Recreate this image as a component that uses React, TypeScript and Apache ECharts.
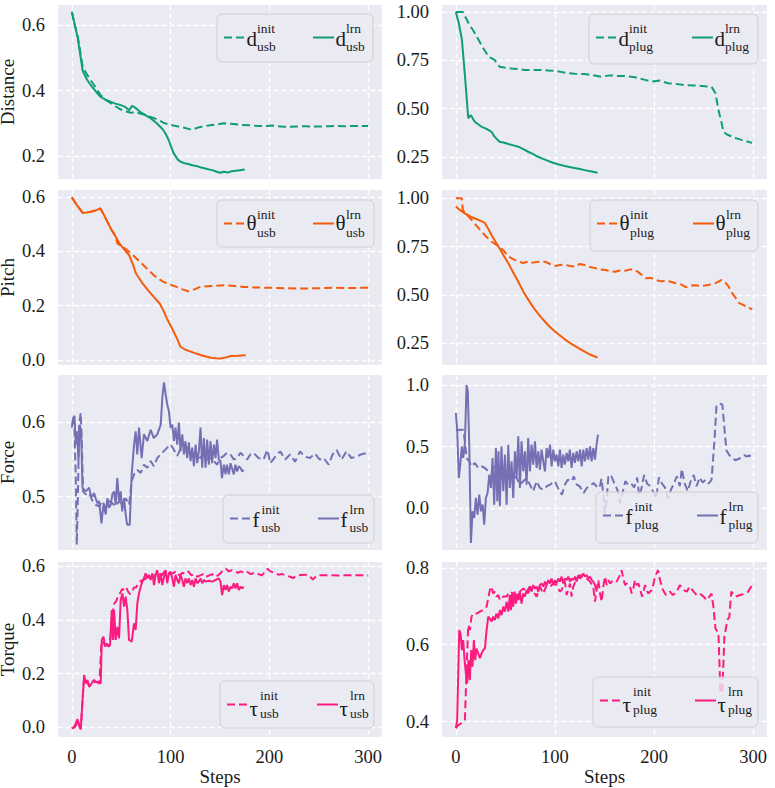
import React, { useEffect, useRef } from "react";
import * as echarts from "echarts";

const FONT = "Liberation Serif";
const TEXT = "#1c1c1c";
const GREEN = "#0e9e75";
const ORANGE = "#f65b0c";
const PURPLE = "#7570b3";
const PINK = "#fc1c81";

const stepTicks = [0, 100, 200, 300];
const rowNames = ["Distance", "Pitch", "Force", "Torque"];

// ---------- Distance ----------
const dUsbInit = [[0,.64],[3,.6],[6,.565],[11,.473],[15,.45],[19,.432],[24,.41],[29,.386],[34,.372],[39,.362],[44,.352],[48,.345],[52,.338],[56,.335],[60,.332],[64,.334],[69,.33],[74,.326],[79,.32],[84,.315],[89,.308],[94,.3],[98,.297],[103,.293],[108,.29],[113,.287],[118,.283],[121,.281],[125,.284],[130,.289],[136,.292],[142,.295],[148,.297],[154,.3],[160,.299],[166,.297],[172,.295],[180,.294],[188,.292],[196,.292],[204,.293],[212,.29],[220,.289],[228,.29],[236,.291],[244,.29],[252,.29],[260,.291],[268,.292],[276,.291],[284,.292],[292,.292],[300,.292]];
const dUsbLrn = [[0,.64],[3,.6],[6,.56],[9,.5],[11,.46],[15,.435],[19,.417],[24,.398],[29,.381],[34,.372],[39,.366],[44,.36],[49,.356],[54,.35],[58,.34],[61,.353],[64,.348],[69,.335],[74,.326],[80,.315],[86,.3],[92,.282],[95,.268],[98,.249],[101,.225],[103,.209],[107,.19],[110,.183],[114,.178],[118,.176],[122,.172],[126,.17],[130,.166],[134,.163],[138,.16],[142,.157],[146,.153],[150,.149],[154,.152],[158,.15],[162,.154],[166,.155],[170,.157],[175,.159]];
const dPlugInit = [[0,1],[7,1],[10,.97],[13,.94],[18,.9],[23,.855],[28,.81],[33,.769],[39,.752],[44,.717],[50,.712],[56,.708],[62,.705],[69,.7],[77,.7],[86,.7],[93,.697],[100,.696],[106,.69],[113,.683],[120,.68],[130,.679],[138,.673],[147,.665],[155,.672],[164,.669],[172,.668],[181,.662],[190,.65],[198,.64],[206,.645],[214,.631],[222,.628],[231,.622],[240,.62],[248,.617],[258,.613],[262,.58],[265,.493],[268,.43],[270,.38],[274,.365],[279,.355],[284,.345],[289,.337],[294,.33],[299,.323]];
const dPlugLrn = [[0,1],[3,.94],[6,.86],[9,.68],[12.5,.45],[15,.467],[19,.432],[26,.406],[31,.395],[36,.38],[39,.355],[44,.329],[48,.325],[53,.317],[58,.31],[63,.303],[68,.29],[73,.277],[78,.265],[83,.251],[88,.24],[93,.23],[98,.22],[103,.212],[110,.203],[117,.196],[124,.189],[130,.182],[137,.175],[143,.168]];

// ---------- Pitch ----------
const pUsbInit = [[0,.598],[5,.57],[11,.541],[15,.542],[19,.545],[24,.55],[29,.557],[33,.53],[36,.508],[40,.48],[44.5,.453],[46,.429],[51,.418],[56,.404],[62,.385],[69,.361],[76,.336],[83,.312],[88,.298],[93,.287],[100,.277],[106,.269],[112,.26],[118,.253],[124,.26],[130,.269],[137,.271],[144,.273],[150,.274],[157,.275],[165,.272],[174,.269],[185,.267],[198,.266],[215,.264],[231,.263],[250,.264],[265,.266],[282,.265],[300,.266]];
const pUsbLrn = [[0,.598],[5,.57],[11,.541],[15,.542],[19,.545],[24,.55],[29,.557],[33,.53],[36,.508],[40,.48],[44.5,.453],[48,.43],[51,.416],[55,.398],[58,.386],[62,.35],[65,.318],[71,.285],[77,.257],[83,.232],[89,.208],[93,.18],[97,.147],[101,.12],[104,.098],[107,.075],[110,.049],[115,.038],[120.5,.031],[126,.024],[131,.018],[136,.013],[141,.009],[146,.007],[151,.006],[156,.01],[161,.015],[168,.016],[176,.018]];
const pPlugInit = [[0,1],[6,1],[7,.94],[11,.915],[16,.888],[21,.857],[26,.827],[31,.8],[36,.775],[40,.762],[44,.75],[48,.73],[53,.698],[58,.685],[63,.672],[68,.665],[73,.672],[77,.667],[84,.672],[90,.672],[95,.66],[100,.65],[105,.655],[110,.656],[115,.65],[120,.646],[125,.66],[130,.655],[135,.645],[141,.638],[146,.632],[151,.629],[156,.622],[161,.62],[166,.628],[171,.625],[176,.632],[181,.629],[186,.61],[192,.586],[197,.588],[202,.577],[207,.57],[212,.573],[217,.568],[222,.56],[227,.555],[232,.54],[237,.548],[242,.55],[247,.545],[253,.55],[258,.555],[263,.563],[268,.577],[271,.57],[275,.545],[279,.508],[283,.48],[286,.457],[290,.448],[293,.44],[296,.432],[299,.426]];
const pPlugLrn = [[0,.957],[4,.94],[9,.922],[16,.902],[22,.89],[29,.874],[33,.84],[36,.81],[40,.775],[44,.741],[48,.705],[53,.664],[58,.615],[63,.568],[69,.508],[75,.46],[80,.422],[85,.39],[90,.361],[95,.334],[100,.31],[105,.29],[110,.27],[115,.252],[120,.236],[125,.221],[130,.206],[136,.19],[143,.175]];

// ---------- Force ----------
const fUsbInit = [[0,.597],[2.4,.602],[4,.525],[5,.435],[6,.489],[7.4,.597],[9,.613],[10,.579],[11.4,.507],[14,.503],[17.5,.505],[21,.494],[24,.489],[27.6,.487],[31,.494],[34,.485],[37.7,.494],[41,.491],[44.4,.487],[47.8,.494],[51,.489],[54.5,.498],[58,.489],[60.6,.521],[63,.53],[66.3,.536],[69.7,.532],[73,.543],[76.4,.539],[79.8,.548],[83,.541],[86.5,.552],[90,.557],[93,.561],[96.6,.566],[100,.57],[103,.564],[106.7,.555],[110,.564],[113.5,.57],[117,.566],[120,.557],[123.6,.559],[127,.557],[130,.552],[133.7,.559],[137,.55],[140.4,.552],[143.8,.548],[147,.543],[150.5,.552],[153.9,.555],[157,.559],[160.6,.557],[164,.55],[167.3,.552],[170.7,.559],[174,.555],[177.4,.55],[180.8,.557],[184,.559],[189,.552],[194,.55],[198,.563],[201,.545],[206,.554],[211,.561],[216,.55],[221,.557],[226,.547],[231,.561],[236,.554],[241,.552],[246,.558],[251,.55],[255,.552],[260,.543],[264,.557],[268,.563],[273,.55],[278,.561],[283,.552],[288,.554],[293,.557],[299,.559]];
const fUsbLrn = [[0,.593],[1.3,.606],[2.7,.609],[4,.57],[5.4,.588],[6.7,.548],[8,.597],[9.4,.588],[10.8,.512],[14,.507],[17.5,.512],[19,.503],[21,.5],[22.5,.505],[24,.498],[26,.491],[27.6,.494],[30,.464],[32,.489],[34.3,.476],[36,.498],[37.7,.485],[39.4,.489],[41,.503],[42.8,.507],[44.4,.489],[46,.525],[47.8,.494],[49.5,.507],[51,.48],[52.9,.498],[54.5,.476],[56,.462],[58.6,.462],[60.6,.53],[63,.57],[64.6,.588],[66.3,.557],[68,.593],[70.7,.552],[73,.584],[76.4,.575],[79.8,.59],[83,.579],[86.5,.584],[90,.597],[91.6,.633],[93.3,.654],[95,.638],[96.6,.624],[98.3,.615],[100,.593],[101.7,.597],[103.4,.575],[105,.593],[106.7,.57],[108.4,.6],[110,.561],[111.8,.584],[113.5,.557],[115,.575],[116.8,.552],[118.5,.573],[120.2,.548],[121.9,.566],[123.6,.541],[125.3,.57],[127,.545],[128.6,.561],[130.3,.593],[132,.539],[133.7,.579],[135.4,.539],[137,.577],[138.7,.543],[140.4,.575],[142,.545],[143.8,.57],[145.5,.552],[147,.577],[148.8,.55],[150.5,.548],[152,.525],[153.9,.543],[155.6,.53],[157,.543],[159,.53],[160.6,.545],[162,.539],[164,.53],[165.6,.543],[167.3,.534],[169,.541],[170.7,.539],[172.4,.534],[174,.536]];
const fPlugInit = [[0,.635],[7.4,.638],[9,.55],[10.8,.408],[13.5,.381],[15.8,.34],[19.2,.368],[22.6,.327],[26,.34],[29.3,.327],[32.7,.3],[36,.313],[39.4,.34],[42.8,.273],[47.8,.246],[51,.273],[54.5,.232],[58,.26],[61.3,.246],[64.6,.192],[68,.219],[71.4,.246],[74.7,.192],[78,.138],[81.5,.219],[84.8,.165],[88.2,.151],[91.6,.178],[95,.192],[100,.219],[103,.165],[107,.111],[110,.192],[113,.232],[117,.219],[119,.26],[122,.192],[125,.178],[129,.124],[132,.165],[135,.178],[139,.205],[142,.178],[145,.165],[147,.24],[149,.1],[150,-.04],[152,.05],[154,.27],[157,.26],[160,.2],[163,.15],[166,.04],[168,.12],[171,.22],[174,.19],[177,.2],[180,.17],[183,.25],[185,.1],[187,.15],[190,.27],[193,.2],[196,.18],[199,.14],[202,.08],[205,.25],[208,.2],[211,.17],[214,.08],[217,.15],[220,.2],[223,.26],[226,.18],[228,.32],[231,.2],[234,.14],[237,.22],[240,.27],[243,.18],[246,.25],[249,.21],[252,.23],[255,.2],[258,.23],[261,.55],[263,.83],[266,.85],[269,.84],[271,.65],[273,.47],[276,.43],[279,.41],[282,.39],[285,.4],[288,.41],[291,.43],[294,.42],[296,.43],[299,.41]];
const fPlugLrn = [[0,.773],[1.3,.638],[3,.246],[4.7,.381],[6,.503],[7.4,.408],[9,.516],[10.8,1],[12,.949],[13.5,.516],[15.2,-.281],[16.8,-.024],[18.5,-.078],[20.2,.084],[21.9,-.051],[23.6,.111],[25.3,-.024],[27,.03],[28.6,-.132],[30.3,.084],[32,.124],[33.7,.273],[35.4,.165],[37,.408],[38.7,.03],[40.4,.489],[41.8,.057],[43,.462],[44.4,.016],[46,.503],[47.8,.138],[49.5,.435],[51.2,.03],[52.9,.516],[54.5,.165],[56.2,.381],[57.9,.084],[59.6,.462],[61.3,.246],[63,.584],[64.6,.165],[66.3,.543],[68,.3],[69.7,.462],[71.4,.192],[73,.57],[74.7,.3],[76.4,.516],[78.1,.354],[79.8,.543],[81.5,.327],[83.2,.462],[84.8,.313],[86.5,.476],[88.2,.381],[89.9,.3],[91.6,.489],[93.3,.408],[95,.516],[96.6,.34],[98.3,.476],[100,.381],[101.7,.435],[103.4,.34],[105,.476],[106.7,.327],[108.4,.435],[110,.354],[111.8,.449],[113.5,.381],[115,.476],[116.8,.327],[118.5,.449],[120.2,.368],[121.9,.462],[123.6,.381],[125.3,.476],[127,.34],[128.6,.476],[130.3,.381],[132,.489],[133.7,.395],[135.4,.503],[137,.381],[138.7,.489],[140.4,.395],[142,.516],[143.4,.597]];

// ---------- Torque ----------
const tUsbInit = [[0,-.004],[3,0],[6,.02],[8,0],[9,-.005],[10.8,.1],[12.5,.19],[14,.17],[17,.16],[21,.165],[25,.17],[28,.168],[30,.32],[33,.31],[36,.305],[39,.33],[41,.42],[43,.46],[45,.47],[47,.49],[49,.5],[51,.515],[53,.51],[55,.52],[57,.505],[59,.495],[61,.505],[63,.52],[65,.52],[67,.535],[70,.545],[73,.55],[76,.555],[79,.56],[82,.555],[85,.57],[88,.575],[91,.565],[94,.58],[97,.575],[100,.57],[103,.575],[106,.58],[109,.565],[112,.575],[115,.57],[118,.58],[121,.565],[124,.57],[127,.56],[130,.565],[133,.57],[136,.56],[139,.565],[142,.57],[145,.56],[148,.565],[151,.575],[153,.585],[156,.59],[159,.58],[162,.585],[165,.58],[168,.575],[171,.58],[174,.575],[177,.58],[181,.57],[185,.575],[189,.57],[192,.565],[195,.575],[198,.59],[201,.58],[205,.575],[209,.568],[213,.57],[217,.565],[221,.56],[224,.555],[228,.565],[232,.567],[236,.568],[240,.565],[244,.55],[248,.565],[255,.566],[262,.566],[270,.565],[280,.566],[290,.566],[300,.565]];
const tUsbLrn = [[0,-.004],[2.4,.002],[4,.015],[5.7,.03],[7.4,.009],[9.1,-.008],[10.8,.1],[12.5,.195],[14.1,.164],[15.8,.176],[17.5,.151],[19.2,.157],[20.9,.17],[22.6,.176],[24.2,.17],[27.6,.164],[29.3,.164],[30.3,.325],[32,.337],[33.7,.3],[35.4,.312],[37,.3],[38.7,.306],[40.4,.436],[41.8,.325],[42.8,.436],[44.4,.325],[46.1,.374],[47.8,.331],[49.5,.474],[51.2,.498],[52.9,.449],[54.5,.486],[56.2,.436],[57.9,.325],[60.6,.319],[63,.387],[64.6,.362],[66.3,.461],[68,.498],[69.7,.523],[71.4,.542],[73,.554],[74.7,.573],[76.4,.554],[78.1,.567],[79.8,.548],[81.5,.573],[83.2,.529],[84.8,.567],[86.5,.585],[88.2,.536],[89.9,.573],[91.6,.529],[93.3,.56],[95,.585],[96.6,.536],[98.3,.573],[100,.579],[101.7,.554],[103.4,.523],[105,.567],[106.7,.548],[108.4,.536],[110,.567],[111.8,.548],[113.5,.523],[115,.554],[116.8,.536],[118.5,.554],[120.2,.529],[121.9,.548],[123.6,.523],[125.3,.554],[127,.536],[128.6,.542],[130.3,.554],[132,.536],[133.7,.548],[135.4,.542],[138.7,.545],[142,.542],[145.5,.548],[148.8,.554],[150.5,.542],[152.2,.492],[153.9,.529],[155.6,.511],[157.2,.529],[158.9,.505],[160.6,.523],[162.3,.517],[164,.536],[165.7,.517],[167.3,.536],[169,.511],[170.7,.523],[172.4,.517],[174,.523]];
const tPlugInit = [[0,.383],[2.4,.391],[5.7,.396],[9.1,.404],[10.8,.534],[12.5,.651],[14.1,.638],[15.8,.673],[17.5,.681],[20.9,.681],[24.2,.686],[27.6,.69],[31,.699],[34.3,.742],[36,.751],[37.7,.733],[39.4,.738],[41,.725],[42.8,.729],[44.4,.716],[47.8,.725],[51.2,.725],[54.5,.738],[57.9,.733],[61.3,.725],[64.6,.738],[68,.746],[71.4,.738],[74.7,.751],[78.1,.738],[81.5,.725],[84.8,.751],[88.2,.733],[91.6,.755],[95,.751],[98.3,.759],[101.7,.755],[105,.738],[106.7,.742],[110,.764],[111.8,.729],[115.2,.759],[116.8,.725],[118.5,.751],[121.9,.772],[125.3,.781],[128.6,.777],[132,.772],[135.4,.764],[138.7,.751],[140.4,.712],[142,.742],[143.8,.768],[145.5,.733],[147.1,.712],[148.8,.751],[150.5,.777],[152.2,.755],[153.9,.768],[155.6,.759],[158.9,.768],[162.3,.764],[165.7,.781],[167.3,.794],[169,.772],[170.7,.755],[172.4,.759],[175.8,.751],[177.4,.733],[179.1,.746],[180.8,.768],[182.5,.755],[184.2,.759],[188,.725],[191,.755],[194,.733],[198,.742],[201,.777],[204,.794],[206,.768],[209,.742],[212,.729],[216,.738],[219,.729],[223,.738],[226,.755],[230,.742],[233,.738],[236,.751],[240,.738],[243,.729],[246,.733],[250,.725],[253,.716],[257,.729],[258,.733],[260,.697],[262,.642],[265,.63],[267,.474],[269,.483],[271,.62],[274,.664],[276,.672],[277,.707],[278,.738],[282,.725],[287,.729],[292,.733],[295,.738],[299,.755]];
const tPlugLrn = [[0,.383],[1.3,.404],[3.4,.638],[4.7,.629],[6.1,.586],[7.4,.612],[8.8,.56],[10.1,.526],[11.4,.5],[12.8,.56],[14.1,.508],[15.5,.586],[16.8,.543],[18.2,.612],[19.5,.56],[20.9,.59],[22.6,.577],[24.2,.565],[25.9,.577],[27.6,.586],[29.3,.59],[31,.638],[32.7,.673],[34.3,.668],[36,.66],[37.7,.673],[39.4,.664],[41,.681],[42.8,.668],[44.4,.69],[46.1,.677],[47.8,.699],[49.5,.686],[51.2,.712],[52.9,.686],[54.5,.729],[55.6,.69],[56.6,.733],[57.9,.699],[59.3,.738],[60.6,.707],[62,.733],[63.3,.716],[64.6,.738],[66.3,.707],[68,.733],[69.7,.725],[71.4,.742],[73,.733],[74.7,.751],[76.4,.738],[78.1,.755],[79.8,.746],[81.5,.751],[83.2,.738],[84.8,.755],[86.5,.759],[88.2,.751],[89.9,.764],[91.6,.755],[93.3,.768],[95,.759],[96.6,.772],[98.3,.755],[100,.768],[101.7,.759],[103.4,.772],[105,.764],[106.7,.777],[108.4,.759],[110,.772],[111.8,.768],[113.5,.777],[115.2,.764],[116.8,.772],[118.5,.768],[120.2,.777],[121.9,.764],[123.6,.781],[125.3,.772],[127,.777],[128.6,.785],[130.3,.777],[132,.781],[133.7,.772],[135.4,.777],[137,.768],[138.7,.764],[140.4,.755],[142.1,.742]];

// ---------- layout ----------
const colLeft = [58, 442];
const colWidth = [324, 325];
const rowTop = [5, 190, 375, 562];
const rowHeight = [174, 175, 175, 175];

type Panel = {
  row: number; col: number; yMin: number; yMax: number; yTicks: number[]; dec: number;
  color: string; sym: string; sub: string; init: number[][]; lrn: number[][];
  leg: { x: number; y: number; w: number; h: number; x2: number };
};

const panels: Panel[] = [
  { row: 0, col: 0, yMin: 0.13, yMax: 0.661, yTicks: [0.2, 0.4, 0.6], dec: 1, color: GREEN, sym: "d", sub: "usb", init: dUsbInit, lrn: dUsbLrn, leg: { x: 217, y: 14, w: 156, h: 48, x2: 313 } },
  { row: 0, col: 1, yMin: 0.136, yMax: 1.036, yTicks: [0.25, 0.5, 0.75, 1.0], dec: 2, color: GREEN, sym: "d", sub: "plug", init: dPlugInit, lrn: dPlugLrn, leg: { x: 589, y: 14, w: 169, h: 50, x2: 692 } },
  { row: 1, col: 0, yMin: -0.018, yMax: 0.625, yTicks: [0, 0.2, 0.4, 0.6], dec: 1, color: ORANGE, sym: "θ", sub: "usb", init: pUsbInit, lrn: pUsbLrn, leg: { x: 217, y: 200, w: 157, h: 47, x2: 313 } },
  { row: 1, col: 1, yMin: 0.137, yMax: 1.043, yTicks: [0.25, 0.5, 0.75, 1.0], dec: 2, color: ORANGE, sym: "θ", sub: "plug", init: pPlugInit, lrn: pPlugLrn, leg: { x: 590, y: 200, w: 168, h: 51, x2: 693 } },
  { row: 2, col: 0, yMin: 0.428, yMax: 0.664, yTicks: [0.5, 0.6], dec: 1, color: PURPLE, sym: "f", sub: "usb", init: fUsbInit, lrn: fUsbLrn, leg: { x: 223, y: 495, w: 151, h: 48, x2: 318 } },
  { row: 2, col: 1, yMin: -0.338, yMax: 1.081, yTicks: [0, 0.5, 1.0], dec: 1, color: PURPLE, sym: "f", sub: "plug", init: fPlugInit, lrn: fPlugLrn, leg: { x: 596, y: 492, w: 162, h: 51, x2: 697 } },
  { row: 3, col: 0, yMin: -0.036, yMax: 0.615, yTicks: [0, 0.2, 0.4, 0.6], dec: 1, color: PINK, sym: "τ", sub: "usb", init: tUsbInit, lrn: tUsbLrn, leg: { x: 220, y: 681, w: 154, h: 47, x2: 317 } },
  { row: 3, col: 1, yMin: 0.36, yMax: 0.815, yTicks: [0.4, 0.6, 0.8], dec: 1, color: PINK, sym: "τ", sub: "plug", init: tPlugInit, lrn: tPlugLrn, leg: { x: 593, y: 677, w: 165, h: 50, x2: 695 } },
];

const gridLine = { show: true, lineStyle: { color: "#ffffff", width: 1.3, type: [5, 3] as any } };
const tickFont = { fontFamily: FONT, fontSize: 18.5, color: TEXT };
const nameFont = { fontFamily: FONT, fontSize: 19, color: TEXT, lineHeight: 20 };

const baselineOf: Record<string, number> = { d: 32.5, f: 32.5, "θ": 30.5, "τ": 35 };

function legendElements(p: Panel) {
  const { x, y, w, h, x2 } = p.leg;
  const els: any[] = [];
  els.push({
    type: "rect", z: 100,
    shape: { x, y, width: w, height: h, r: 5 },
    style: { fill: "rgba(234,234,242,0.8)", stroke: "rgba(204,204,204,0.9)", lineWidth: 1 },
  });
  const lineY = y + 23.5;
  const mainFs = 21, scrFs = 13.5;
  const mainMid = y + baselineOf[p.sym] - 0.34 * mainFs;
  const supMid = y + 19 - 0.34 * scrFs;
  const subMid = y + 37.5 - 0.34 * scrFs;
  const entries = [
    { lx: x + 7, dash: [8, 4], sup: "init" },
    { lx: x2, dash: null, sup: "lrn" },
  ];
  entries.forEach((e) => {
    els.push({
      type: "line", z: 101,
      shape: { x1: e.lx, y1: lineY, x2: e.lx + 21, y2: lineY },
      style: { stroke: p.color, lineWidth: 2, lineDash: e.dash || undefined },
    });
    const mx = e.lx + 22.5;
    els.push({
      type: "text", z: 101, x: mx, y: mainMid,
      style: { text: p.sym, fontSize: mainFs, fontFamily: FONT, fill: TEXT, align: "left", verticalAlign: "middle" },
    });
    const sx = mx + (p.sym === "f" ? 9 : 10.5);
    els.push({
      type: "text", z: 101, x: sx, y: supMid,
      style: { text: e.sup, fontSize: scrFs, fontFamily: FONT, fill: TEXT, align: "left", verticalAlign: "middle" },
    });
    els.push({
      type: "text", z: 101, x: sx, y: subMid,
      style: { text: p.sub, fontSize: scrFs, fontFamily: FONT, fill: TEXT, align: "left", verticalAlign: "middle" },
    });
  });
  return els;
}

function buildOption() {
  const grid = panels.map((p) => ({
    left: colLeft[p.col], top: rowTop[p.row], width: colWidth[p.col], height: rowHeight[p.row],
    show: true, backgroundColor: "#EAEAF2", borderWidth: 0, containLabel: false,
    outerBoundsMode: "none",
  }));
  const xAxis = panels.map((p, i) => ({
    type: "value", gridIndex: i, min: -14, max: 314,
    axisLine: { show: false },
    axisTick: { show: false, customValues: stepTicks },
    axisLabel: { show: p.row === 3, customValues: stepTicks, margin: 10, ...tickFont },
    splitLine: gridLine,
    name: p.row === 3 ? "Steps" : "",
    nameLocation: "middle", nameGap: 26,
    nameTextStyle: { ...nameFont },
  }));
  const yAxis = panels.map((p, i) => ({
    type: "value", gridIndex: i, min: p.yMin, max: p.yMax,
    axisLine: { show: false },
    axisTick: { show: false, customValues: p.yTicks },
    axisLabel: { customValues: p.yTicks, margin: 13, formatter: (v: number) => v.toFixed(p.dec), ...tickFont },
    splitLine: gridLine,
    name: p.col === 0 ? rowNames[p.row] : "",
    nameLocation: "middle", nameGap: 35,
    nameTextStyle: { ...nameFont },
  }));
  const series: any[] = [];
  panels.forEach((p, i) => {
    series.push({
      type: "line", xAxisIndex: i, yAxisIndex: i, data: p.init, showSymbol: false, symbol: "none",
      lineStyle: { color: p.color, width: 2, type: [8, 4] }, itemStyle: { color: p.color }, silent: true, z: 2,
    });
    series.push({
      type: "line", xAxisIndex: i, yAxisIndex: i, data: p.lrn, showSymbol: false, symbol: "none",
      lineStyle: { color: p.color, width: 2, type: "solid" }, itemStyle: { color: p.color }, silent: true, z: 3,
    });
  });
  const graphic = panels.flatMap((p) => legendElements(p));
  return { animation: false, backgroundColor: "#ffffff", textStyle: { fontFamily: FONT }, grid, xAxis, yAxis, series, graphic };
}

export default function App() {
  const ref = useRef<HTMLDivElement>(null);
  useEffect(() => {
    document.body.style.margin = "0";
    const chart = echarts.init(ref.current!, null, { renderer: "svg", width: 775, height: 788 });
    chart.setOption(buildOption() as any);
    return () => chart.dispose();
  }, []);
  return <div ref={ref} style={{ position: "absolute", left: 0, top: 0, width: 775, height: 788 }} />;
}
